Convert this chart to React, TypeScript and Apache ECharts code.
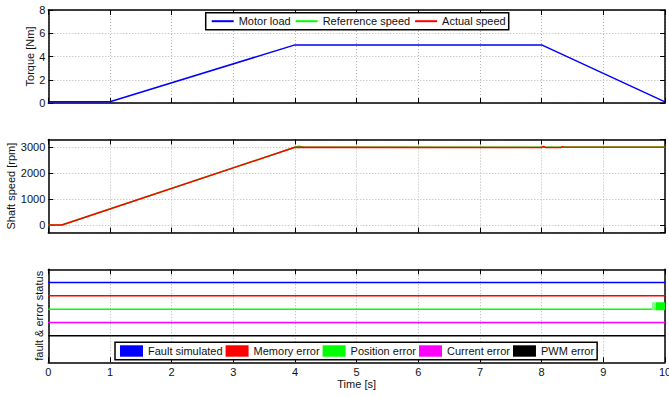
import React, { useEffect, useRef } from "react";
import * as echarts from "echarts";

// ---- data ----
const timeTicks = [0, 1, 2, 3, 4, 5, 6, 7, 8, 9, 10];
const torqueTicks = [0, 2, 4, 6, 8];

const loadTime = [0, 1, 4, 8, 10];
const loadTorque = [0.1, 0.1, 5, 5, 0.1];

const refTime = [0, 0.22, 4.0, 4.06, 4.15, 10];
const refSpeed = [0, 0, 3000, 3040, 3000, 3000];

const actTime = [0, 0.22, 4.0, 8.0, 8.03, 8.06, 8.32, 8.34, 8.36, 10];
const actSpeed = [0, 0, 3000, 2995, 3030, 2995, 2995, 3030, 3000, 3000];

const mixTime = [8.36, 10];
const mixSpeed = [3000, 3000];

const statusNames = ["Fault simulated", "Memory error", "Position error", "Current error", "PWM error"];
const statusColors = ["#0000ff", "#ff0000", "#00ff00", "#ff00ff", "#000000"];
const statusLevels = [5, 4, 3, 2, 1];

const burstFadeTime = [9.79, 9.85];
const burstTime = [9.85, 10];
const burstLevel = 3.22;

const zip = (xs: number[], ys: number[]) => xs.map((x, i) => [x, ys[i]]);
const timeMin = () => timeTicks[0];
const timeMax = () => timeTicks[timeTicks.length - 1];

const FONT = "'Liberation Sans', Arial, Helvetica, sans-serif";
const BORDER = { show: true, onZero: false, lineStyle: { color: "#000", width: 1.5 } };
const GRIDLINE = { show: true, lineStyle: { color: "#b4b4b4", width: 1, type: [1, 2] as any } };
const TICK = { show: true, inside: true, length: 5, lineStyle: { color: "#000", width: 1 } };
const LABEL = { color: "#111", fontSize: 11, fontFamily: FONT };

export default function App() {
  const ref = useRef<HTMLDivElement>(null);
  useEffect(() => {
    if (!ref.current) return;
    const chart = echarts.init(ref.current, undefined, { renderer: "svg" });

    const grids = [
      { left: 48.3, top: 10, width: 616.7, height: 93, outerBoundsMode: "none", containLabel: false },
      { left: 48.3, top: 139.5, width: 616.7, height: 93.2, outerBoundsMode: "none", containLabel: false },
      { left: 48.3, top: 269.3, width: 616.7, height: 93, outerBoundsMode: "none", containLabel: false },
    ];

    const xAxes: any[] = [];
    const yAxes: any[] = [];
    grids.forEach((_, g) => {
      xAxes.push({
        type: "value",
        gridIndex: g,
        position: "bottom",
        min: timeMin(),
        max: timeMax(),
        interval: 1,
        axisLine: BORDER,
        axisTick: TICK,
        axisLabel: { show: g === 2, margin: 4, ...LABEL, formatter: (v: number) => String(v) },
        splitLine: GRIDLINE,
        name: g === 2 ? "Time [s]" : "",
        nameLocation: "middle",
        nameGap: 16,
        nameMoveOverlap: false,
        nameTextStyle: LABEL,
      });
      xAxes.push({
        type: "value",
        gridIndex: g,
        position: "top",
        min: timeMin(),
        max: timeMax(),
        interval: 1,
        axisLine: BORDER,
        axisTick: TICK,
        axisLabel: { show: false },
        splitLine: { show: false },
      });
    });

    // top panel y
    yAxes.push({
      type: "value",
      gridIndex: 0,
      position: "left",
      min: torqueTicks[0],
      max: torqueTicks[torqueTicks.length - 1],
      interval: 2,
      axisLine: BORDER,
      axisTick: TICK,
      axisLabel: { show: true, margin: 3, ...LABEL, formatter: (v: number) => String(v) },
      splitLine: GRIDLINE,
      name: "Torque [Nm]",
      nameLocation: "middle",
      nameGap: 12.8,
      nameMoveOverlap: false,
      nameTextStyle: LABEL,
    });
    yAxes.push({
      type: "value",
      gridIndex: 0,
      position: "right",
      min: torqueTicks[0],
      max: torqueTicks[torqueTicks.length - 1],
      interval: 2,
      axisLine: BORDER,
      axisTick: TICK,
      axisLabel: { show: false },
      splitLine: { show: false },
    });
    // middle panel y
    yAxes.push({
      type: "value",
      gridIndex: 1,
      position: "left",
      min: -300,
      max: 3300,
      splitNumber: 5,
      axisLine: BORDER,
      axisTick: TICK,
      axisLabel: {
        show: true,
        margin: 3,
        ...LABEL,
        showMinLabel: false,
        showMaxLabel: false,
        formatter: (v: number) => String(v),
      },
      splitLine: GRIDLINE,
      name: "Shaft speed [rpm]",
      nameLocation: "middle",
      nameGap: 31.5,
      nameMoveOverlap: false,
      nameTextStyle: LABEL,
    });
    yAxes.push({
      type: "value",
      gridIndex: 1,
      position: "right",
      min: -300,
      max: 3300,
      splitNumber: 5,
      axisLine: BORDER,
      axisTick: TICK,
      axisLabel: { show: false },
      splitLine: { show: false },
    });
    // bottom panel y
    yAxes.push({
      type: "value",
      gridIndex: 2,
      position: "left",
      min: -1,
      max: 6,
      axisLine: BORDER,
      axisTick: { show: false },
      axisLabel: { show: false },
      splitLine: { show: false },
      name: "fault & error status",
      nameLocation: "middle",
      nameGap: 3.8,
      nameMoveOverlap: false,
      nameTextStyle: LABEL,
    });
    yAxes.push({
      type: "value",
      gridIndex: 2,
      position: "right",
      min: -1,
      max: 6,
      axisLine: BORDER,
      axisTick: { show: false },
      axisLabel: { show: false },
      splitLine: { show: false },
    });

    const series: any[] = [
      {
        name: "Motor load",
        type: "line",
        xAxisIndex: 0,
        yAxisIndex: 0,
        symbol: "none",
        color: "#0000ff",
        lineStyle: { width: 1.5, color: "#0000ff" },
        data: zip(loadTime, loadTorque),
      },
      {
        name: "Referrence speed",
        type: "line",
        xAxisIndex: 2,
        yAxisIndex: 2,
        symbol: "none",
        color: "#00ff00",
        lineStyle: { width: 1.5, color: "#00ff00" },
        data: zip(refTime, refSpeed),
      },
      {
        name: "Actual speed",
        type: "line",
        xAxisIndex: 2,
        yAxisIndex: 2,
        symbol: "none",
        color: "#ff0000",
        lineStyle: { width: 1.5, color: "#ff0000" },
        data: zip(actTime, actSpeed),
      },
      {
        name: "speed overlap",
        type: "line",
        xAxisIndex: 2,
        yAxisIndex: 2,
        symbol: "none",
        lineStyle: { width: 1.5, color: "#3a9a00", opacity: 0.55 },
        data: zip(mixTime, mixSpeed),
      },
    ];

    statusNames.forEach((n, i) => {
      series.push({
        name: n + " signal",
        type: "line",
        xAxisIndex: 4,
        yAxisIndex: 4,
        symbol: "none",
        lineStyle: { width: 1.5, color: statusColors[i] },
        data: [
          [timeMin(), statusLevels[i]],
          [timeMax(), statusLevels[i]],
        ],
      });
      // legend patch entries
      series.push({
        name: n,
        type: "bar",
        xAxisIndex: 4,
        yAxisIndex: 4,
        itemStyle: { color: statusColors[i] },
        data: [],
      });
    });

    series.push({
      name: "Position error burst fade",
      type: "line",
      xAxisIndex: 4,
      yAxisIndex: 4,
      symbol: "none",
      lineStyle: { width: 8, color: "#7dff7d", cap: "butt" },
      data: burstFadeTime.map((t) => [t, burstLevel]),
    });
    series.push({
      name: "Position error burst",
      type: "line",
      xAxisIndex: 4,
      yAxisIndex: 4,
      symbol: "none",
      lineStyle: { width: 8, color: "#00ff00", cap: "butt" },
      data: burstTime.map((t) => [t, burstLevel]),
    });

    chart.setOption({
      animation: false,
      backgroundColor: "#ffffff",
      textStyle: { fontFamily: FONT },
      grid: grids,
      xAxis: xAxes,
      yAxis: yAxes,
      legend: [
        {
          data: ["Motor load", "Referrence speed", "Actual speed"].map((n) => ({
            name: n,
            itemStyle: { opacity: 0 },
          })),
          left: 205.7,
          top: 12.7,
          orient: "horizontal",
          itemWidth: 22,
          itemHeight: 12,
          itemGap: 4,
          padding: [3, 3, 3, 5],
          backgroundColor: "#ffffff",
          borderColor: "#000",
          borderWidth: 1.5,
          selectedMode: false,
          textStyle: LABEL,
        },
        {
          data: statusNames.map((n) => ({ name: n, icon: "rect" })),
          left: 115,
          top: 342.3,
          orient: "horizontal",
          itemWidth: 23,
          itemHeight: 11.4,
          itemGap: 3,
          padding: [3, 3, 3, 5],
          backgroundColor: "#ffffff",
          borderColor: "#000",
          borderWidth: 1.5,
          selectedMode: false,
          textStyle: LABEL,
        },
      ],
      series,
    });

    return () => chart.dispose();
  }, []);

  return (
    <div
      ref={ref}
      style={{ position: "fixed", left: 0, top: 0, width: 669, height: 397, background: "#fff" }}
    />
  );
}
